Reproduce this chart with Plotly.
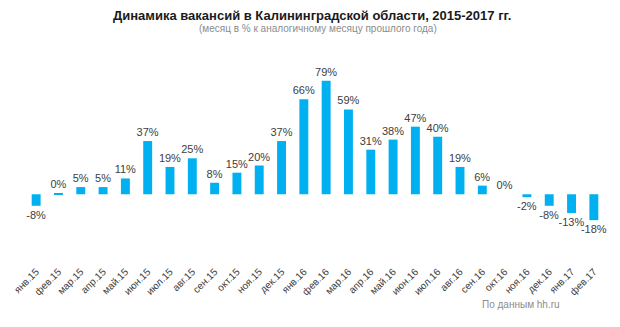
import plotly.graph_objects as go

months = ["янв.15", "фев.15", "мар.15", "апр.15", "май.15", "июн.15", "июл.15", "авг.15",
          "сен.15", "окт.15", "ноя.15", "дек.15", "янв.16", "фев.16", "мар.16", "апр.16",
          "май.16", "июн.16", "июл.16", "авг.16", "сен.16", "окт.16", "ноя.16", "дек.16",
          "янв.17", "фев.17"]
values = [-8, 0.3, 5, 5, 11, 37, 19, 25, 8, 15, 20, 37, 66, 79, 59, 31, 38, 47, 40, 19, 6, 0,
          -2, -8, -13, -18]
labels = [f"{round(v):d}%" for v in values]

title = "<b>Динамика вакансий в Калининградской области, 2015-2017 гг.</b>"
subtitle = "(месяц в % к аналогичному месяцу прошлого года)"
source = "По данным hh.ru"

FONT = "Liberation Sans, Arial, sans-serif"

fig = go.Figure(go.Bar(
    x=months, y=values, text=labels, textposition="outside",
    constraintext="none",
    textfont=dict(size=11, color="#404040", family=FONT),
    marker=dict(color="#00B0F0", line=dict(width=0)),
    cliponaxis=False,
))

fig.update_layout(
    width=620, height=327,
    margin=dict(l=16, r=15, t=72, b=68),
    paper_bgcolor="white", plot_bgcolor="white",
    bargap=0.6,
    showlegend=False,
    font=dict(family=FONT, color="#404040"),
    xaxis=dict(type="category", range=[-0.5, 25.5], tickangle=-45,
               tickfont=dict(size=10, color="#404040"), showgrid=False,
               showline=False, ticks="", ticklabelstandoff=4),
    yaxis=dict(range=[-45, 85], visible=False, showgrid=False,
               zeroline=True, zerolinecolor="#d9d9d9", zerolinewidth=1),
)

pw = 620 - 16 - 15
ph = 327 - 72 - 68


def ann(text, px, py, size, color):
    return dict(text=text, xref="paper", yref="paper",
                x=(px - 16) / pw, y=(327 - 68 - py) / ph,
                xanchor="center", yanchor="middle", showarrow=False,
                font=dict(size=size, color=color, family=FONT))


fig.update_layout(annotations=[
    ann(title, 307, 16, 13, "#1a1a1a"),
    ann(subtitle, 314, 29, 10, "#8c8c8c"),
    ann(source, 520, 304, 10, "#8c8c8c"),
])

fig.write_html("out.html")
